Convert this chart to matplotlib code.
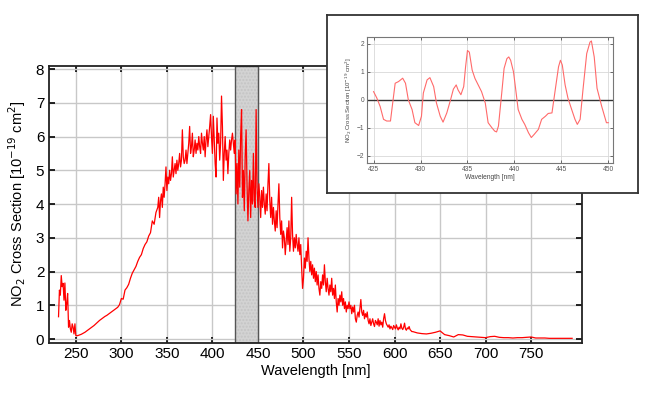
import numpy as np
import matplotlib
matplotlib.use("Agg")
import matplotlib.pyplot as plt

plt.rcParams['font.family'] = ['Liberation Sans', 'DejaVu Sans']

# ---------------- main spectrum data ----------------
wl_a = np.arange(231, 251, 1)
val_a = [0.66, 1.45, 1.30, 1.88, 1.55, 1.65, 1.15, 1.66, 0.85, 1.05,
         1.35, 0.35, 0.55, 0.30, 0.20, 0.45, 0.35, 0.15, 0.45, 0.10]

wl_b = np.arange(252, 340, 2)
val_b = [0.10, 0.12, 0.14, 0.17, 0.20, 0.24, 0.28, 0.32, 0.36, 0.40,
         0.45, 0.50, 0.55, 0.59, 0.63, 0.67, 0.70, 0.74, 0.78, 0.82,
         0.86, 0.90, 0.94, 1.02, 1.20, 1.18, 1.45, 1.52, 1.62, 1.80,
         1.95, 2.05, 2.15, 2.30, 2.42, 2.50, 2.68, 2.80, 2.88, 3.05,
         3.15, 3.50, 3.40, 3.75]

wl_c = np.arange(340, 621, 1)
val_c = [3.9, 4.2, 3.6, 4.1, 4.3, 3.9, 4.5, 4.2, 4.6, 5.1,
         4.4, 4.8, 4.6, 5.0, 4.7, 4.9, 5.4, 4.8, 5.0, 5.2,
         4.9, 5.3, 5.0, 5.2, 5.5, 5.1, 5.3, 6.2, 5.4, 5.2,
         5.3, 5.6, 5.2, 5.5, 5.8, 6.3, 5.5, 5.7, 6.1, 5.4,
         5.6, 5.9, 5.5, 5.8, 5.6, 6.0, 5.7, 5.5, 6.1, 5.8,
         5.6, 6.0, 5.4, 5.9, 6.2, 5.7, 6.0, 6.3, 6.65, 6.0,
         5.5, 6.6, 5.9, 5.2, 4.8, 6.55, 5.8, 6.1, 5.3, 5.8,
         7.2, 6.3, 4.7, 5.5, 6.0, 5.3, 5.6, 4.9, 5.5, 5.9,
         5.6, 5.9, 6.1, 5.8, 5.5, 5.9, 4.3, 5.2, 4.0, 5.6,
         4.5, 6.0, 6.8, 4.2, 5.0, 3.8, 5.4, 6.2, 4.6, 3.5,
         4.4, 5.0, 3.6, 4.7, 4.0, 5.5, 4.1, 3.9, 6.8, 4.5,
         3.9, 4.6, 4.2, 3.6, 4.4, 3.9, 4.5, 4.0, 3.7, 4.3,
         3.8, 4.6, 5.2, 4.1, 3.6, 4.2, 3.4, 3.9, 3.5, 3.2,
         3.8, 3.3, 4.0, 4.6, 3.6, 3.1, 3.5, 2.7, 3.2, 3.0,
         2.5, 2.9, 3.3, 2.8, 3.5, 2.6, 3.0, 4.2, 3.1, 2.6,
         3.0, 2.7, 3.1, 2.8, 2.6, 3.0, 2.5, 2.8, 2.1, 1.5,
         1.8, 2.4, 2.1, 2.6, 2.3, 3.0, 2.4, 2.0, 2.3, 1.9,
         2.2, 1.8, 2.1, 1.7, 2.0, 1.6, 1.9, 1.5, 1.3, 1.7,
         1.5, 1.9, 1.6, 2.2, 1.7, 1.4, 1.8, 1.5, 1.3, 1.6,
         1.4, 1.8, 1.3, 1.5, 1.2, 1.6, 1.1, 0.8, 1.2, 1.0,
         1.3, 1.1, 1.4, 1.0, 1.2, 0.9, 1.1, 0.8, 1.0, 0.9,
         1.1, 0.9, 1.0, 0.75, 0.95, 0.8, 1.0, 0.6, 0.5, 0.7,
         0.8, 0.65, 0.9, 1.17, 0.8, 0.7, 0.85, 0.6, 0.75, 0.65,
         0.8, 0.55, 0.45, 0.6, 0.4, 0.5, 0.6, 0.45, 0.37, 0.55,
         0.5, 0.42, 0.6, 0.38, 0.55, 0.42, 0.5, 0.35, 0.6, 0.75,
         0.55, 0.45, 0.4, 0.35, 0.42, 0.3, 0.38, 0.33, 0.28, 0.4,
         0.35, 0.3, 0.42, 0.33, 0.27, 0.35, 0.3, 0.45, 0.32, 0.28,
         0.35, 0.47, 0.3, 0.26, 0.33, 0.3, 0.37, 0.28, 0.25, 0.22,
         0.22]

wl_d = np.arange(625, 800, 5)
val_d = [0.18, 0.16, 0.15, 0.17, 0.20, 0.24, 0.13, 0.10, 0.06, 0.13,
         0.12, 0.08, 0.07, 0.06, 0.05, 0.04, 0.07, 0.08, 0.05, 0.04,
         0.04, 0.03, 0.04, 0.04, 0.05, 0.06, 0.03, 0.03, 0.03, 0.02,
         0.02, 0.02, 0.02, 0.02, 0.02]

wavelength = np.concatenate([wl_a, wl_b, wl_c, wl_d])
cross_section = np.concatenate([val_a, val_b, val_c, val_d])

band_start, band_end = 425, 450
x_ticks = [250, 300, 350, 400, 450, 500, 550, 600, 650, 700, 750]
y_ticks = [0, 1, 2, 3, 4, 5, 6, 7, 8]

# ---------------- inset (differential) data ----------------
inset_wl = [425.0, 425.35, 425.7, 426.06, 426.4, 426.8, 426.95, 427.3, 427.66, 428.1,
            428.4, 428.7, 429.1, 429.4, 429.8, 430.1, 430.3, 430.7, 431.0, 431.4,
            431.7, 432.1, 432.4, 432.8, 433.2, 433.5, 433.8, 434.0, 434.3, 434.6,
            434.8, 435.0, 435.2, 435.5, 435.8, 436.5, 436.9, 437.2, 437.6, 437.9,
            438.1, 438.3, 438.65, 438.9, 439.2, 439.4, 439.6, 439.9, 440.1, 440.4,
            440.8, 441.1, 441.5, 441.8, 442.1, 442.55, 442.9, 443.3, 443.6, 444.0,
            444.3, 444.7, 444.9, 445.1, 445.4, 445.7, 446.1, 446.45, 446.7, 447.0,
            447.3, 447.7, 448.05, 448.2, 448.5, 448.8, 449.3, 449.8, 450.0]
inset_val = [0.29, 0.06, -0.24, -0.70, -0.76, -0.76, -0.35, 0.59, 0.65, 0.77,
             0.59, 0.0, -0.35, -0.82, -0.92, -0.59, 0.24, 0.71, 0.79, 0.47,
             -0.12, -0.59, -0.80, -0.47, 0.0, 0.38, 0.53, 0.35, 0.18, 0.47,
             1.18, 1.76, 1.70, 1.06, 0.76, 0.29, -0.12, -0.82, -1.0, -1.12,
             -1.15, -0.94, 0.24, 1.12, 1.47, 1.53, 1.41, 1.0, 0.47, -0.35,
             -0.70, -0.88, -1.18, -1.35, -1.24, -1.06, -0.70, -0.59, -0.49, -0.47,
             0.24, 1.18, 1.41, 1.24, 0.53, 0.06, -0.35, -0.70, -0.88, -0.70,
             0.35, 1.65, 2.06, 2.10, 1.53, 0.41, -0.24, -0.82, -0.82]
inset_x_ticks = [425, 430, 435, 440, 445, 450]
inset_y_ticks = [-2, -1, 0, 1, 2]

# ---------------- figure ----------------
fig = plt.figure(figsize=(6.6, 4.08), dpi=100)
ax = fig.add_axes([0.0735, 0.160, 0.882 - 0.0735, 0.839 - 0.160])

ax.axvspan(band_start, band_end, facecolor='#d3d3d3', edgecolor='#c4c4c4',
           linewidth=0, hatch='.....', zorder=1)
ax.axvspan(band_start, band_end, facecolor='none', edgecolor='#555555',
           linewidth=1.0, zorder=1.5)
ax.plot(wavelength, cross_section, color='red', linewidth=0.9, zorder=3)

ax.set_xlim(220, 806)
ax.set_ylim(-0.11, 8.1)
ax.set_xticks(x_ticks)
ax.set_yticks(y_ticks)
ax.grid(True, color='#c8c8c8', linewidth=1.0, zorder=0)
ax.set_axisbelow(True)
ax.tick_params(direction='in', length=4, width=1.2, labelsize=11,
               top=True, right=True, colors='black', pad=3)
for s in ax.spines.values():
    s.set_linewidth(1.3)
    s.set_color('#222222')
ax.set_xlabel('Wavelength [nm]', fontsize=10.5, labelpad=2)
ax.set_ylabel('NO$_2$ Cross Section [10$^{-19}$ cm$^2$]', fontsize=10.5, labelpad=6)

# inset frame
frame = fig.add_axes([327 / 660, (408 - 193) / 408, 311 / 660, 178 / 408])
frame.set_xticks([])
frame.set_yticks([])
frame.set_facecolor('white')
for s in frame.spines.values():
    s.set_linewidth(1.3)
    s.set_color('#333333')

# inset axes
ins = fig.add_axes([367 / 660, (408 - 163) / 408, 246 / 660, 126.5 / 408])
ins.plot(inset_wl, inset_val, color='#ff6a6a', linewidth=0.8, zorder=3)
ins.axhline(0, color='#333333', linewidth=1.0, zorder=2)
ins.set_xlim(424.3, 450.5)
ins.set_ylim(-2.26, 2.26)
ins.set_xticks(inset_x_ticks)
ins.set_yticks(inset_y_ticks)
ins.grid(True, color='#d8d8d8', linewidth=0.6, zorder=0)
ins.tick_params(direction='in', length=2, width=0.6, labelsize=4.8,
                top=True, right=True, colors='#555555', pad=2)
for s in ins.spines.values():
    s.set_linewidth(0.8)
    s.set_color('#777777')
ins.set_xlabel('Wavelength [nm]', fontsize=4.8, labelpad=1, color='#444444')
ins.set_ylabel('NO$_2$ Cross Section [10$^{-19}$ cm$^2$]', fontsize=4.3,
               labelpad=2, color='#444444')

fig.savefig('out.png', dpi=100)
